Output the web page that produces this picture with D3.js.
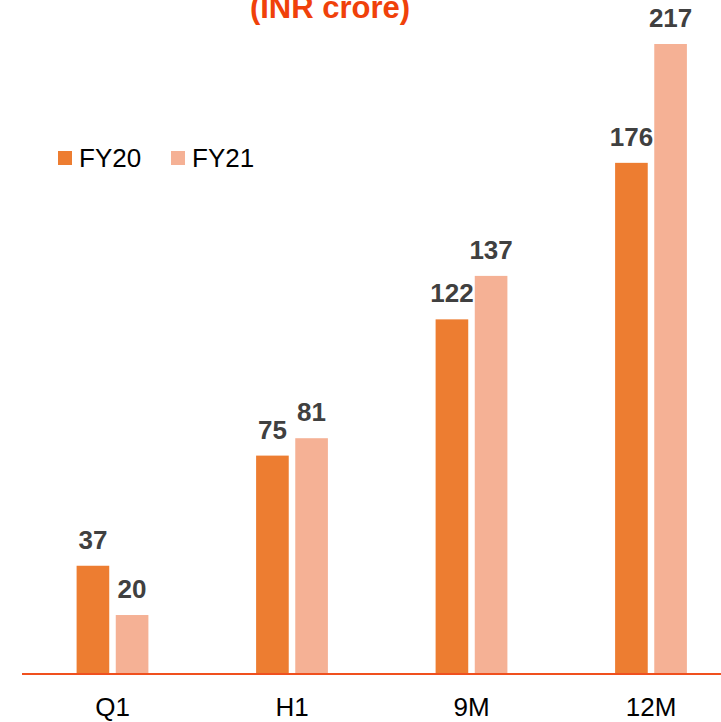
<!DOCTYPE html>
<html>
<head>
<meta charset="utf-8">
<script src="https://cdn.jsdelivr.net/npm/d3@7"></script>
<style>
  html, body { margin: 0; padding: 0; background: #ffffff; }
  svg { display: block; font-family: "Liberation Sans", Arial, sans-serif; }
</style>
</head>
<body>
<svg id="chart" width="721" height="722"></svg>
<script>
// Periods and series
const categories = ["Q1", "H1", "9M", "12M"];
const seriesNames = ["FY20", "FY21"];
const fy20Values = [37, 75, 122, 176];
const fy21Values = [20, 81, 137, 217];
const titleText = "(INR crore)";

const colors = { FY20: "#ED7D31", FY21: "#F5B195" };

const rows = categories.map((c, i) => ({ cat: c, FY20: fy20Values[i], FY21: fy21Values[i] }));

const svg = d3.select("#chart");

const baseY = 673;
const x0 = d3.scaleBand().domain(categories).range([22.75, 740.75])
  .paddingInner(0.6).paddingOuter(0.3);
const x1 = d3.scaleBand().domain(seriesNames).range([0, x0.bandwidth()])
  .paddingInner(1 / 6);
const y = d3.scaleLinear().domain([0, 217]).range([baseY, 44]);

// Title
svg.append("text")
  .attr("x", 330).attr("y", 18)
  .attr("text-anchor", "middle")
  .attr("font-size", 31).attr("font-weight", "bold")
  .attr("fill", "#F0410A")
  .text(titleText);

// Bars
const groups = svg.append("g").selectAll("g")
  .data(rows).join("g")
  .attr("transform", d => `translate(${x0(d.cat)},0)`);

groups.selectAll("rect")
  .data(d => seriesNames.map(s => ({ s, v: d[s] })))
  .join("rect")
  .attr("x", d => x1(d.s))
  .attr("width", x1.bandwidth())
  .attr("y", d => y(d.v))
  .attr("height", d => baseY - y(d.v))
  .attr("fill", d => colors[d.s]);

// Value labels
groups.selectAll("text.val")
  .data(d => seriesNames.map(s => ({ s, v: d[s] })))
  .join("text")
  .attr("class", "val")
  .attr("x", d => x1(d.s) + x1.bandwidth() / 2)
  .attr("y", d => y(d.v) - 17)
  .attr("text-anchor", "middle")
  .attr("font-size", 26).attr("font-weight", "bold")
  .attr("fill", "#404040")
  .text(d => d.v);

// Category axis
const xAxis = d3.axisBottom(x0).tickSize(0).tickPadding(0);
const axisG = svg.append("g").attr("transform", `translate(0,${baseY})`).call(xAxis);
axisG.select(".domain").remove();
axisG.selectAll("text")
  .attr("y", 43).attr("dy", null)
  .attr("font-size", 26)
  .attr("font-family", "\"Liberation Sans\", Arial, sans-serif")
  .attr("fill", "#000000");

svg.append("line")
  .attr("x1", 22).attr("x2", 721)
  .attr("y1", baseY + 1).attr("y2", baseY + 1)
  .attr("stroke", "#F0501E").attr("stroke-width", 2);

// Legend
const legend = svg.append("g");
const legendItems = [{ s: "FY20", x: 58 }, { s: "FY21", x: 171 }];
legendItems.forEach(it => {
  legend.append("rect")
    .attr("x", it.x).attr("y", 151)
    .attr("width", 14).attr("height", 14)
    .attr("fill", colors[it.s]);
  legend.append("text")
    .attr("x", it.x + 21).attr("y", 167)
    .attr("font-size", 26).attr("fill", "#000000")
    .text(it.s);
});
</script>
</body>
</html>
